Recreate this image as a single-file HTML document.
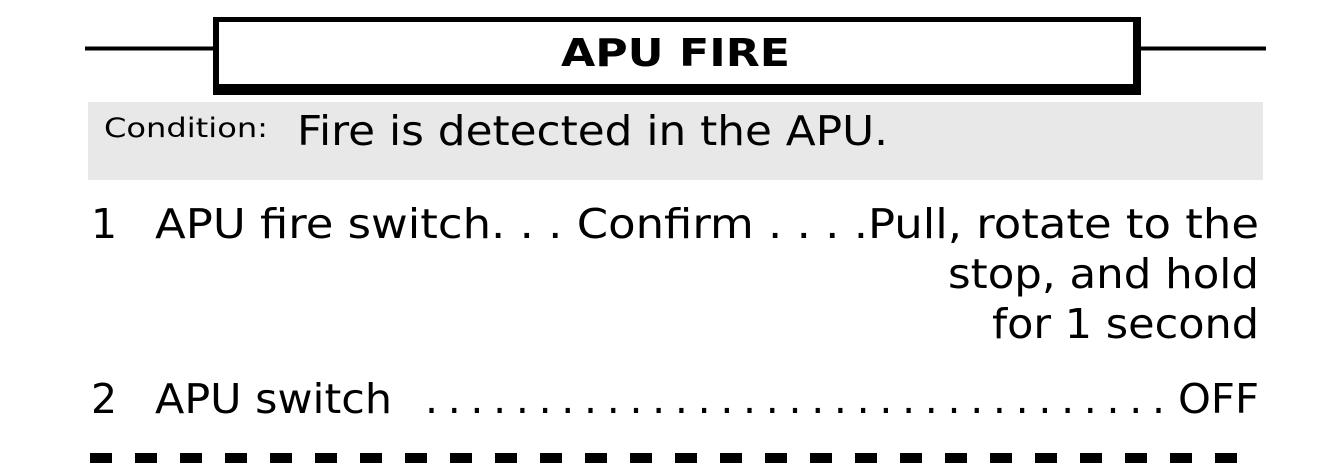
<!DOCTYPE html>
<html><head><meta charset="utf-8"><style>
html,body{margin:0;padding:0;background:#fff;}
svg{display:block;font-family:"DejaVu Sans","Liberation Sans",sans-serif;}
</style></head><body>
<svg width="1334" height="475" viewBox="0 0 1334 475" xmlns="http://www.w3.org/2000/svg">
<rect x="0" y="0" width="1334" height="475" fill="#fff"/>
<line x1="85" y1="48.5" x2="216" y2="48.5" stroke="#000" stroke-width="4"/>
<line x1="1138" y1="48.5" x2="1266" y2="48.5" stroke="#000" stroke-width="4"/>
<rect x="213" y="17" width="928" height="78" fill="#000"/>
<rect x="219" y="22" width="914" height="62" fill="#fff"/>
<text x="561" y="66" font-weight="bold" font-size="38" textLength="229" lengthAdjust="spacingAndGlyphs">APU FIRE</text>
<rect x="88" y="102" width="1175" height="78" fill="#e8e8e8"/>
<text x="104" y="137" font-size="27" textLength="164" lengthAdjust="spacingAndGlyphs">Condition:</text>
<text x="297" y="145" font-size="41" textLength="591" lengthAdjust="spacingAndGlyphs">Fire is detected in the APU.</text>
<text x="91" y="238" font-size="41">1</text>
<text x="155" y="238" font-size="41" textLength="1104" lengthAdjust="spacingAndGlyphs">APU fire switch. . . Confirm . . . .Pull, rotate to the</text>
<text x="948" y="288" font-size="41" textLength="311" lengthAdjust="spacingAndGlyphs">stop, and hold</text>
<text x="992" y="338" font-size="41" textLength="267" lengthAdjust="spacingAndGlyphs">for 1 second</text>
<text x="91" y="413" font-size="41">2</text>
<text x="155" y="413" font-size="41" textLength="237" lengthAdjust="spacingAndGlyphs">APU switch</text>
<text x="425" y="413" font-size="41" textLength="740" lengthAdjust="spacing">. . . . . . . . . . . . . . . . . . . . . . . . . . . . . . . . .</text>
<text x="1178" y="413" font-size="41" textLength="81" lengthAdjust="spacingAndGlyphs">OFF</text>
<line x1="90" y1="458" x2="1260" y2="458" stroke="#000" stroke-width="10" stroke-dasharray="22 23"/>
</svg>
</body></html>
